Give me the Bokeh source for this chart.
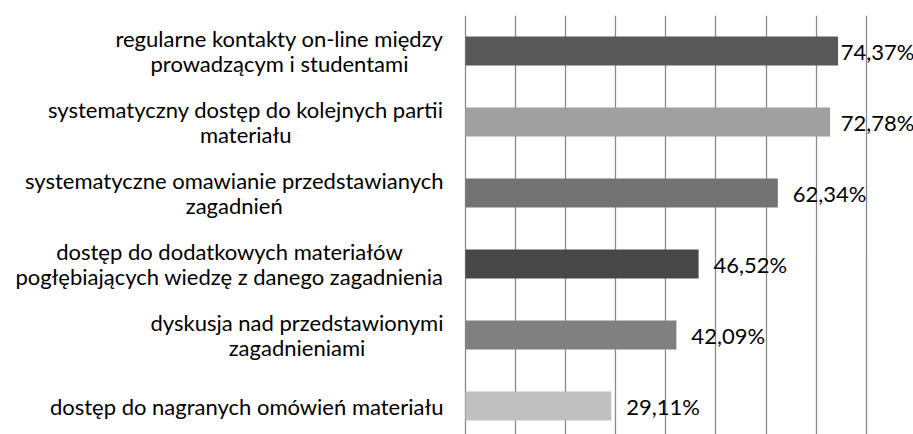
import numpy as np
from bokeh.plotting import figure
from bokeh.models import Range1d, FixedTicker, ColumnDataSource
from bokeh.core.properties import value
from bokeh.embed import file_html
from bokeh.resources import INLINE

categories = [
    "regularne kontakty on-line między\nprowadzącym i studentami",
    "systematyczny dostęp do kolejnych partii\nmateriału",
    "systematyczne omawianie przedstawianych\nzagadnień",
    "dostęp do dodatkowych materiałów\npogłębiających wiedzę z danego zagadnienia",
    "dyskusja nad przedstawionymi\nzagadnieniami",
    "dostęp do nagranych omówień materiału",
]
values = [74.37, 72.78, 62.34, 46.52, 42.09, 29.11]
labels = ["74,37%", "72,78%", "62,34%", "46,52%", "42,09%", "29,11%"]
colors = ["#585858", "#a0a0a0", "#737373", "#484848", "#808080", "#c0c0c0"]
grid_ticks = [0, 10, 20, 30, 40, 50, 60, 70, 80]

FONT = "Lato"
FS = "22px"

pos = list(range(len(categories)))
label_x = list(np.minimum(np.array(values), 71.9))
src = ColumnDataSource(dict(y=pos, v=values, c=colors, lab=labels, lx=label_x,
                            cat=categories, zero=[0] * len(pos)))

p = figure(width=913, height=434, output_backend="svg", toolbar_location=None,
           x_range=Range1d(-92.81, 89.42), y_range=Range1d(5.401, -0.5),
           x_axis_location=None, y_axis_location=None,
           min_border_left=0, min_border_right=0, min_border_top=15, min_border_bottom=0)
p.outline_line_color = None
p.background_fill_color = "white"
p.border_fill_color = "white"

p.hbar(y="y", right="v", left=0, height=0.41, fill_color="c", line_color=None, source=src)
p.text(x="lx", y="y", text="lab", x_offset=15, text_align="left", text_baseline="middle",
       text_font=value(FONT), text_font_size=FS, text_color="black", source=src)
p.text(x="zero", y="y", text="cat", x_offset=-22, anchor="center_right", text_align="center",
       text_baseline="middle", text_line_height=0.91,
       text_font=value(FONT), text_font_size=FS, text_color="black", source=src)

p.xgrid.ticker = FixedTicker(ticks=grid_ticks)
p.xgrid.grid_line_color = "#8a8a8a"
p.xgrid.grid_line_width = 1.3
p.ygrid.visible = False

open("out.html", "w").write(file_html(p, INLINE))
